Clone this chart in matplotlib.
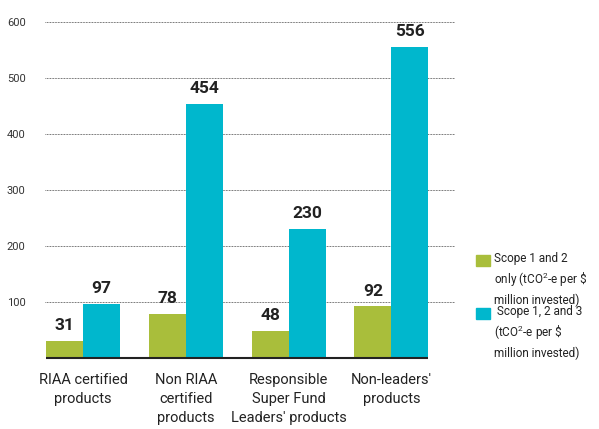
import numpy as np
import matplotlib.pyplot as plt
from matplotlib.patches import Rectangle

categories = ["RIAA certified\nproducts", "Non RIAA\ncertified\nproducts",
              "Responsible\nSuper Fund\nLeaders' products", "Non-leaders'\nproducts"]
scope12 = [31, 78, 48, 92]
scope123 = [97, 454, 230, 556]
yticks = [100, 200, 300, 400, 500, 600]
legend_labels = ["Scope 1 and 2\nonly (tCO$^{2}$-e per \\$\nmillion invested)",
                 " Scope 1, 2 and 3\n(tCO$^{2}$-e per \\$\nmillion invested)"]

green = '#A9BE3B'
cyan = '#00B7CD'
plt.rcParams['font.family'] = ['Roboto', 'DejaVu Sans']
plt.rcParams['mathtext.fontset'] = 'custom'
plt.rcParams['mathtext.rm'] = 'Roboto'

fig = plt.figure(figsize=(5.99, 4.29), dpi=100)
ax = fig.add_axes([45 / 599, 71 / 429, 410 / 599, 336 / 429])

x = np.arange(len(categories))
w = 0.36
b1 = ax.bar(x - w / 2, scope12, w, color=green, zorder=3)
b2 = ax.bar(x + w / 2, scope123, w, color=cyan, zorder=3)

for bars, vals in [(b1, scope12), (b2, scope123)]:
    for r, v in zip(bars, vals):
        ax.text(r.get_x() + r.get_width() / 2, v + 14, str(v), ha='center', va='bottom',
                fontsize=12.5, fontweight='bold', color='#222222', zorder=4)

ax.set_xlim(-0.37, 3.62)
ax.set_ylim(0, 600)
ax.set_yticks(yticks)
ax.set_yticklabels([str(t) for t in yticks], fontsize=8, color='#333333')
ax.tick_params(axis='y', length=0, pad=14)
ax.set_xticks(x)
ax.set_xticklabels(categories, fontsize=10.5, color='#222222', linespacing=1.45)
ax.tick_params(axis='x', length=0, pad=11)
ax.yaxis.grid(True, linestyle=(0, (0.8, 0.8)), color='#555555', linewidth=0.7, zorder=0)
for s in ax.spines.values():
    s.set_visible(False)
ax.hlines(0, x[0] - w, x[-1] + w, color='#222222', linewidth=1.5, zorder=5, clip_on=False)

# manual legend, patch aligned to the first line of each label
colors = [green, cyan]
tops = [255, 308]
for c, t, lab in zip(colors, tops, legend_labels):
    fig.patches.append(Rectangle((476 / 599, 1 - (t + 11) / 429), 14 / 599, 11 / 429,
                                 transform=fig.transFigure, color=c))
    fig.text(494 / 599, 1 - (t - 3) / 429, lab, ha='left', va='top', fontsize=8.5,
             color='#222222', linespacing=1.45)

fig.savefig('out.png', dpi=100)
